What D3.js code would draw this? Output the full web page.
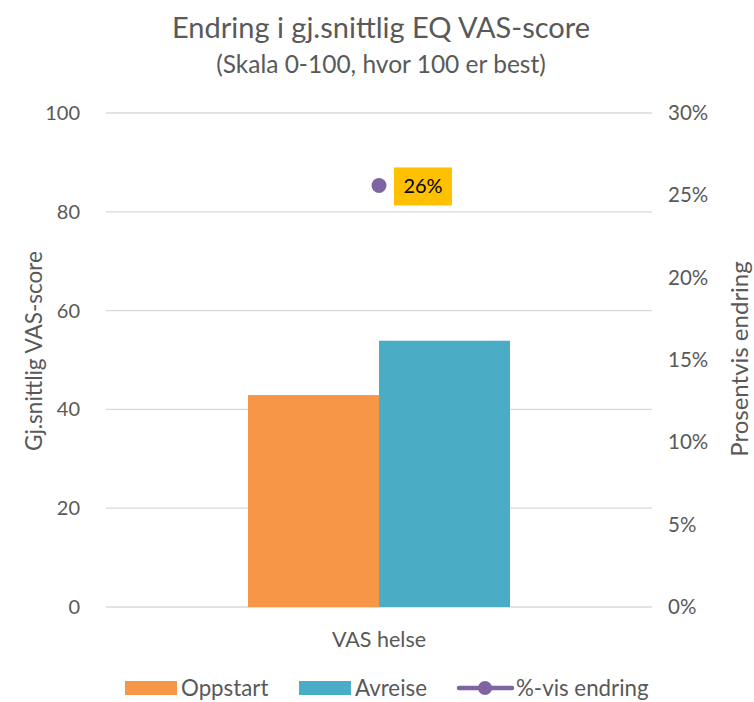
<!DOCTYPE html>
<html>
<head>
<meta charset="utf-8">
<script src="https://cdn.jsdelivr.net/npm/d3@7"></script>
<style>
  body { margin: 0; background: #fff; }
  text { font-family: Lato, "Open Sans", sans-serif; fill: #595959; }
</style>
</head>
<body>
<div id="chart"></div>
<script>
// data
var categories = ["VAS helse"]
var seriesNames = ["Oppstart", "Avreise"]
var oppstart = [42.9]
var avreise = [53.9]
var pctChange = [0.256]
var pctLabels = ["26%"]
var leftTicks = [0, 20, 40, 60, 80, 100]
var rightTicks = [0, 0.05, 0.10, 0.15, 0.20, 0.25, 0.30]

var colors = {Oppstart: "#F79646", Avreise: "#4BACC6", line: "#8064A2"}

var W = 754, H = 702
var margin = {top: 113, right: 102, bottom: 95, left: 106},
    width = W - margin.left - margin.right,
    height = H - margin.top - margin.bottom;

var svg = d3.select("#chart")
  .append("svg")
    .attr("width", W)
    .attr("height", H)

var g = svg.append("g")
    .attr("transform", "translate(" + margin.left + "," + margin.top + ")");

var x0 = d3.scaleBand().domain(categories).range([0, width]).paddingInner(0).paddingOuter(0)
var x1 = d3.scaleBand().domain(seriesNames).range([0, 262]).padding(0)
var groupOffset = (x0.bandwidth() - 262) / 2

var y = d3.scaleLinear().domain([0, 100]).range([height, 0])
var y2 = d3.scaleLinear().domain([0, 0.30]).range([height, 0])

// gridlines
g.append("g")
  .selectAll("line")
  .data(leftTicks)
  .enter()
  .append("line")
    .attr("x1", 0)
    .attr("x2", width)
    .attr("y1", function(d) { return y(d) })
    .attr("y2", function(d) { return y(d) })
    .attr("stroke", "#D9D9D9")
    .attr("stroke-width", 1.3)

// left axis
var yAxis = g.append("g")
  .call(d3.axisLeft(y).tickValues(leftTicks).tickSize(0).tickPadding(26))
yAxis.select(".domain").remove()
yAxis.selectAll("text").style("font-size", "20px").attr("fill", "#595959")

// right axis
var yAxis2 = g.append("g")
  .attr("transform", "translate(" + width + ",0)")
  .call(d3.axisRight(y2).tickValues(rightTicks).tickSize(0).tickPadding(16)
    .tickFormat(d3.format(".0%")))
yAxis2.select(".domain").remove()
yAxis2.selectAll("text").style("font-size", "20.5px").attr("fill", "#595959")

// bars
var rows = categories.map(function(c, i) {
  return {cat: c, values: [
    {name: "Oppstart", v: oppstart[i]},
    {name: "Avreise", v: avreise[i]}
  ]}
})

var grp = g.selectAll(".grp")
  .data(rows)
  .enter()
  .append("g")
    .attr("transform", function(d) { return "translate(" + (x0(d.cat) + groupOffset) + ",0)" })

grp.selectAll("rect")
  .data(function(d) { return d.values })
  .enter()
  .append("rect")
    .attr("x", function(d) { return x1(d.name) })
    .attr("y", function(d) { return y(d.v) })
    .attr("width", x1.bandwidth())
    .attr("height", function(d) { return height - y(d.v) })
    .attr("fill", function(d) { return colors[d.name] })

// x axis label
g.append("g")
  .selectAll("text")
  .data(categories)
  .enter()
  .append("text")
    .attr("x", function(d) { return x0(d) + x0.bandwidth() / 2 })
    .attr("y", height + 40)
    .attr("text-anchor", "middle")
    .style("font-size", "21.5px")
    .text(function(d) { return d })

// percent change point
categories.forEach(function(c, i) {
  var cx = x0(c) + x0.bandwidth() / 2
  var cy = y2(pctChange[i])
  g.append("circle")
    .attr("cx", cx)
    .attr("cy", cy)
    .attr("r", 7.5)
    .attr("fill", colors.line)
  g.append("rect")
    .attr("x", cx + 15)
    .attr("y", cy - 18)
    .attr("width", 58)
    .attr("height", 38)
    .attr("fill", "#FFC000")
  g.append("text")
    .attr("x", cx + 44)
    .attr("y", cy + 8)
    .attr("text-anchor", "middle")
    .style("font-size", "20px")
    .style("fill", "#000")
    .text(pctLabels[i])
})

// titles
svg.append("text")
  .attr("x", 381)
  .attr("y", 38)
  .attr("text-anchor", "middle")
  .style("font-size", "29px")
  .text("Endring i gj.snittlig EQ VAS-score")

svg.append("text")
  .attr("x", 381)
  .attr("y", 73)
  .attr("text-anchor", "middle")
  .style("font-size", "24.5px")
  .text("(Skala 0-100, hvor 100 er best)")

// axis titles
svg.append("text")
  .attr("transform", "translate(42,351) rotate(-90)")
  .attr("text-anchor", "middle")
  .style("font-size", "22.5px")
  .text("Gj.snittlig VAS-score")

svg.append("text")
  .attr("transform", "translate(748,359) rotate(-90)")
  .attr("text-anchor", "middle")
  .style("font-size", "24px")
  .text("Prosentvis endring")

// legend
var ly = 688
var legend = svg.append("g")
legend.append("rect").attr("x", 125).attr("y", ly - 7).attr("width", 52).attr("height", 14).attr("fill", colors.Oppstart)
legend.append("text").attr("x", 181).attr("y", ly + 8).style("font-size", "22.3px").text("Oppstart")
legend.append("rect").attr("x", 299).attr("y", ly - 7).attr("width", 52).attr("height", 14).attr("fill", colors.Avreise)
legend.append("text").attr("x", 355).attr("y", ly + 8).style("font-size", "22.3px").text("Avreise")
legend.append("line").attr("x1", 459).attr("x2", 512).attr("y1", ly).attr("y2", ly)
  .attr("stroke", colors.line).attr("stroke-width", 4.5).attr("stroke-linecap", "round")
legend.append("circle").attr("cx", 485).attr("cy", ly).attr("r", 7).attr("fill", colors.line)
legend.append("text").attr("x", 516).attr("y", ly + 8).style("font-size", "22.3px").text("%-vis endring")
</script>
</body>
</html>
